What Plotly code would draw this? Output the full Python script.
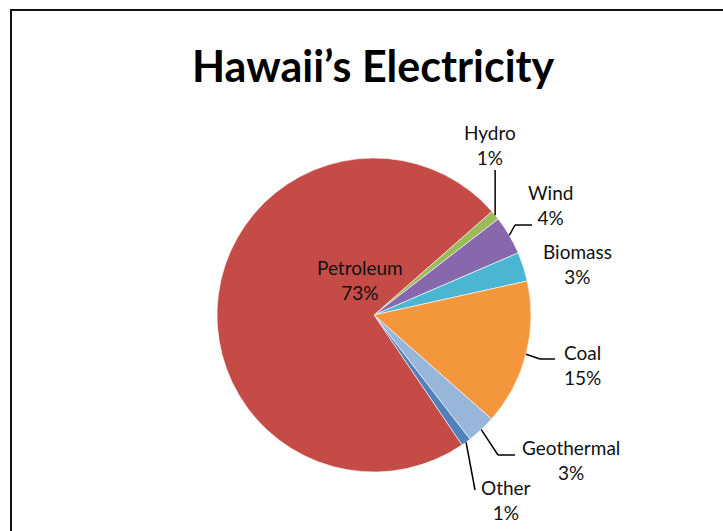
import plotly.graph_objects as go
import math

# ---- data ----
labels = ["Hydro", "Wind", "Biomass", "Coal", "Geothermal", "Other", "Petroleum"]
values = [1, 4, 3, 15, 3, 1, 73]
title_text = "Hawaii’s Electricity"

# ---- style / layout ----
W, H = 723, 531
colors = ["#9BBB59", "#8868AC", "#4BB6D2", "#F3963C", "#98B5DA", "#4F81BD", "#C44B46"]
ROTATION = 48.7
CX, CY, R = 374, 315, 157

def px(x):
    return x / W

def py(y):
    return (H - y) / H

# label centres (pixels) and leader-line waypoints (pixels)
label_pos = {
    "Hydro": (490, 145),
    "Wind": (550, 205),
    "Biomass": (577, 264),
    "Coal": (582, 365),
    "Geothermal": (571, 460),
    "Other": (506, 500),
    "Petroleum": (360, 280),
}
leader_pts = {
    "Hydro": [(None, 170)],
    "Wind": [(515, 225), (532, 225)],
    "Coal": [(540, 359), (555, 359)],
    "Geothermal": [(498, 455), (515, 455)],
    "Other": [(475, 490)],
}

fig = go.Figure(go.Pie(
    labels=labels,
    values=values,
    sort=False,
    direction="clockwise",
    rotation=ROTATION,
    textinfo="none",
    marker=dict(colors=colors, line=dict(color="rgba(255,255,255,0.6)", width=1)),
    domain=dict(x=[px(CX - R), px(CX + R)], y=[py(CY + R), py(CY - R)]),
    showlegend=False,
    hoverinfo="label+percent",
))

total = sum(values)
shapes = []
annotations = []
cum = 0
for lab, v in zip(labels, values):
    mid = math.radians(ROTATION + 360 * (cum + v / 2) / total)
    cum += v
    rim = (CX + R * math.sin(mid), CY - R * math.cos(mid))
    pct = round(100 * v / total)
    lx, ly = label_pos[lab]
    annotations.append(dict(
        x=px(lx), y=py(ly), xref="paper", yref="paper",
        text=f"{lab}<br>{pct}%", showarrow=False,
        xanchor="center", yanchor="middle",
        font=dict(family="Lato", size=19, color="#111"),
    ))
    if lab in leader_pts:
        prev = rim
        for (x, y) in leader_pts[lab]:
            if x is None:
                x = prev[0]
            shapes.append(dict(type="line", xref="paper", yref="paper",
                               x0=px(prev[0]), y0=py(prev[1]), x1=px(x), y1=py(y),
                               line=dict(color="black", width=1.5)))
            prev = (x, y)

annotations.append(dict(
    x=px(373), y=py(66), xref="paper", yref="paper", text=f"<b>{title_text}</b>",
    showarrow=False, xanchor="center", yanchor="middle",
    font=dict(family="Lato", size=43, color="black"),
))

shapes.append(dict(type="rect", xref="paper", yref="paper",
                   x0=px(11), y0=-0.2, x1=1.2, y1=py(10),
                   line=dict(color="#111", width=2), fillcolor="rgba(0,0,0,0)"))

fig.update_layout(
    width=W, height=H,
    margin=dict(l=0, r=0, t=0, b=0),
    paper_bgcolor="white",
    plot_bgcolor="white",
    shapes=shapes,
    annotations=annotations,
)

fig.write_html("out.html")
